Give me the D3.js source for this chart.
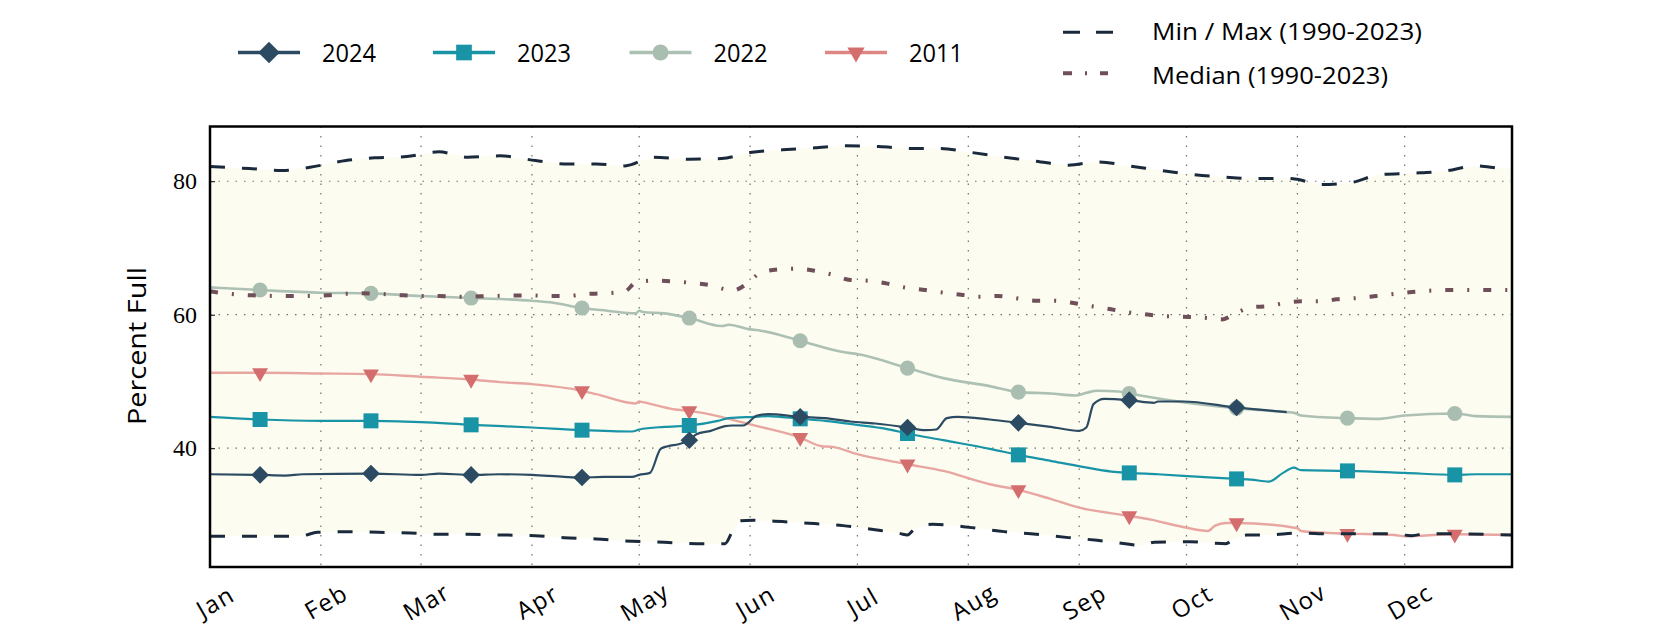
<!DOCTYPE html>
<html>
<head>
<meta charset="utf-8">
<script src="https://cdn.jsdelivr.net/npm/d3@7"></script>
<style>
  body { margin: 0; background: #fff; }
  svg { display: block; }
</style>
</head>
<body>
<div id="chart"></div>
<script>
// day-of-year (0 = Jan 1) and percent full
const maxPts = [[0,82.2],[11,81.9],[20,81.6],[28,82.1],[38,83.1],[46,83.5],[55,83.7],[64,84.4],[72,83.6],[81,83.8],
  [91,83.1],[99,82.6],[108,82.6],[116,82.3],[124,83.6],[134,83.3],[143,83.4],[151,84.3],[160,84.7],[169,85.0],
  [178,85.3],[187,85.2],[196,84.9],[204,84.9],[213,84.3],[222,83.6],[231,83.0],[240,82.4],[248,82.9],[257,82.3],
  [266,81.6],[275,81.0],[284,80.6],[292,80.4],[302,80.4],[304,80.3],[310,79.5],[319,79.8],[327,81.0],[336,81.2],
  [345,81.5],[354,82.3],[362,81.9],[364,82.0]];

const minPts = [[0,26.8],[22,26.8],[26,26.9],[30,27.4],[38,27.5],[47,27.4],[56,27.3],[64,27.1],[72,27.1],[81,27.0],
  [91,26.9],[99,26.6],[108,26.4],[116,26.1],[127,25.9],[136,25.7],[144,25.7],[146,27.5],[148,29.1],[152,29.2],
  [160,29.0],[169,28.7],[177,28.4],[187,27.7],[193,27.2],[195,27.0],[197,27.9],[202,28.6],[213,28.1],[222,27.5],
  [231,27.1],[240,26.6],[248,26.2],[257,25.6],[260,25.4],[264,25.9],[274,26.0],[280,25.8],[284,25.7],[286,26.3],
  [290,27.0],[296,27.0],[304,27.3],[310,27.2],[330,27.2],[336,26.9],[340,27.2],[364,27.0]];

const medPts = [[0,63.5],[6,63.1],[12,62.9],[22,62.8],[27,62.8],[33,62.9],[37,63.1],[42,63.2],[48,63.1],[54,62.9],
  [60,62.8],[64,62.8],[69,62.7],[79,62.8],[89,62.9],[95,62.8],[100,62.8],[105,63.1],[110,63.2],[116,63.5],
  [119,64.8],[124,65.1],[129,65.0],[134,64.8],[140,64.4],[144,63.8],[146,63.6],[150,64.6],[154,66.3],[159,66.8],
  [164,66.9],[169,66.6],[174,66.0],[179,65.2],[184,65.1],[189,64.7],[194,64.1],[200,63.7],[205,63.3],[210,63.0],
  [215,62.7],[220,62.8],[225,62.5],[231,62.1],[236,62.1],[241,61.8],[245,61.4],[251,60.9],[256,60.4],[261,60.1],
  [266,59.8],[272,59.7],[277,59.6],[283,59.3],[287,60.3],[291,61.1],[296,61.3],[301,61.8],[305,62.0],[311,62.0],
  [315,62.3],[321,62.5],[326,62.8],[331,63.1],[336,63.4],[341,63.6],[346,63.7],[364,63.7]];

const s2024 = [[0,36.1],[14,36.0],[21,35.9],[26,36.1],[45,36.2],[59,36.0],[64,36.2],[73,36.0],[81,36.1],[90,36.0],
  [99,35.7],[104,35.6],[110,35.7],[118,35.7],[120,36.0],[123,36.3],[126,39.9],[128,40.3],[131,40.6],[134,41.2],
  [136,42.1],[140,42.6],[144,43.3],[146,43.4],[149,43.4],[153,44.9],[156,45.1],[165,44.7],[172,44.5],[179,44.0],
  [186,43.7],[195,43.1],[200,42.7],[203,42.8],[206,44.5],[209,44.7],[218,44.3],[226,43.8],[235,43.2],[243,42.6],
  [245,43.1],[247,46.6],[250,47.4],[257,47.2],[264,46.8],[265,47.0],[272,47.0],[287,46.1],[295,45.7],[301,45.4]];

const s2023 = [[0,44.7],[14,44.3],[31,44.1],[45,44.1],[59,43.9],[73,43.5],[90,43.1],[104,42.7],[118,42.5],[120,42.8],
  [127,43.2],[134,43.4],[142,44.1],[145,44.5],[152,44.7],[156,44.8],[165,44.4],[172,44.1],[181,43.5],[189,42.9],
  [195,42.2],[205,41.2],[218,39.9],[226,39.0],[235,38.1],[244,37.2],[252,36.5],[257,36.3],[265,36.1],[277,35.7],
  [287,35.4],[291,35.3],[296,35.0],[300,36.3],[303,37.1],[305,36.7],[318,36.6],[334,36.3],[348,36.0],[354,36.1],[364,36.1]];

const s2022 = [[0,64.1],[14,63.7],[31,63.3],[45,63.2],[59,62.8],[73,62.5],[90,62.1],[96,61.8],[104,61.0],[111,60.6],
  [119,60.2],[120,60.6],[121,60.4],[127,60.2],[134,59.5],[143,58.3],[145,58.5],[151,57.8],[154,57.6],[165,56.1],
  [177,54.4],[181,54.1],[195,52.0],[205,50.5],[218,49.3],[226,48.4],[235,48.2],[242,47.9],[245,48.3],[248,48.6],
  [254,48.5],[257,48.2],[272,46.9],[287,46.0],[301,45.4],[303,45.3],[305,44.9],[318,44.5],[327,44.4],[334,44.9],
  [348,45.2],[354,44.8],[364,44.7]];

const s2011 = [[0,51.3],[14,51.3],[31,51.2],[45,51.1],[59,50.7],[73,50.3],[81,49.9],[90,49.6],[104,48.6],[108,48.1],
  [119,46.7],[120,47.0],[121,46.9],[130,45.8],[134,45.6],[142,44.8],[145,44.4],[153,43.3],[165,41.6],[171,40.3],
  [174,40.2],[181,39.1],[195,37.6],[205,36.6],[218,34.6],[226,33.75],[235,32.4],[243,31.1],[257,29.85],[263,29.3],
  [272,28.2],[279,27.6],[281,28.4],[284,28.8],[287,28.8],[304,28.0],[305,27.6],[313,27.3],[318,27.2],[331,27.0],
  [334,26.8],[348,27.1],[364,27.0]];

// markers sit on the 15th of each month
const markerDays = [14, 45, 73, 104, 134, 165, 195, 226, 257, 287, 318, 348];
const yTicks = [40, 60, 80];

const W = 1680, H = 630;
const pLeft = 210, pRight = 1512, pTop = 126.5, pBottom = 567;
const font = "Open Sans";

const toDate = d => new Date(2023, 0, 1 + d);

const x = d3.scaleTime()
  .domain([new Date(2023, 0, 1), new Date(2023, 11, 31)])
  .range([pLeft, pRight]);
const y = d3.scaleLinear()
  .domain([22.2, 88.2])
  .range([pBottom, pTop]);

const svg = d3.select("#chart").append("svg")
  .attr("width", W).attr("height", H);

const line = d3.line()
  .x(d => x(toDate(d[0])))
  .y(d => y(d[1]))
  .curve(d3.curveMonotoneX);

// band between min and max
svg.append("path")
  .attr("d", d3.line().x(d => x(toDate(d[0]))).y(d => y(d[1]))(maxPts.concat(minPts.slice().reverse())) + "Z")
  .attr("fill", "#fcfcf1");

// grid
const months = d3.timeMonth.range(new Date(2023, 0, 1), new Date(2023, 11, 31));
svg.append("g").selectAll("line")
  .data(months.slice(1))
  .join("line")
  .attr("x1", d => x(d)).attr("x2", d => x(d))
  .attr("y1", pTop).attr("y2", pBottom)
  .attr("stroke", "#6f6f6f").attr("stroke-width", 1.2)
  .attr("stroke-dasharray", "1.5,8");
svg.append("g").selectAll("line")
  .data(yTicks)
  .join("line")
  .attr("x1", pLeft).attr("x2", pRight)
  .attr("y1", d => y(d)).attr("y2", d => y(d))
  .attr("stroke", "#6f6f6f").attr("stroke-width", 1.2)
  .attr("stroke-dasharray", "1.5,7");

// yearly series
const series = [
  {name: "2011", pts: s2011, line: "#e8a6a1", mark: "#d46e6e", w: 2.4, sym: d3.symbolTriangle, size: 110, rot: 180},
  {name: "2022", pts: s2022, line: "#adc0b4", mark: "#aabdb1", w: 2.6, sym: d3.symbolCircle, size: 180, rot: 0},
  {name: "2023", pts: s2023, line: "#1894a6", mark: "#1894a6", w: 2.2, sym: d3.symbolSquare, size: 225, rot: 0},
  {name: "2024", pts: s2024, line: "#2c4b62", mark: "#2c4b62", w: 2.2, sym: d3.symbolSquare, size: 155, rot: 45}
];

series.forEach(s => {
  svg.append("path")
    .attr("d", line(s.pts))
    .attr("fill", "none")
    .attr("stroke", s.line)
    .attr("stroke-width", s.w)
    .attr("stroke-linejoin", "round");
  svg.append("g").selectAll("path")
    .data(s.pts.filter(p => markerDays.includes(p[0])))
    .join("path")
    .attr("d", d3.symbol(s.sym, s.size))
    .attr("transform", d => `translate(${x(toDate(d[0]))},${y(d[1])}) rotate(${s.rot})`)
    .attr("fill", s.mark);
});

// min / max and median
[maxPts, minPts].forEach(pts => {
  svg.append("path")
    .attr("d", line(pts))
    .attr("fill", "none")
    .attr("stroke", "#1a2a3c")
    .attr("stroke-width", 3)
    .attr("stroke-dasharray", "15,17");
});
svg.append("path")
  .attr("d", line(medPts))
  .attr("fill", "none")
  .attr("stroke", "#6f4f59")
  .attr("stroke-width", 4)
  .attr("stroke-dasharray", "8,14,2,14");

// frame
svg.append("rect")
  .attr("x", pLeft).attr("y", pTop)
  .attr("width", pRight - pLeft).attr("height", pBottom - pTop)
  .attr("fill", "none").attr("stroke", "#000").attr("stroke-width", 2.5);

// y axis
const yAxis = svg.append("g")
  .attr("transform", `translate(${pLeft},0)`)
  .call(d3.axisLeft(y).tickValues(yTicks).tickSize(-5).tickPadding(13));
yAxis.select(".domain").remove();
yAxis.selectAll("line").attr("stroke", "#000");
yAxis.selectAll("text")
  .attr("font-family", "Liberation Serif")
  .attr("font-size", 24)
  .attr("fill", "#000");

svg.append("text")
  .attr("transform", "translate(137,346) rotate(-90)")
  .attr("text-anchor", "middle")
  .attr("dy", "0.35em")
  .attr("font-family", font)
  .attr("font-size", 25)
  .attr("textLength", 158)
  .attr("lengthAdjust", "spacingAndGlyphs")
  .text("Percent Full");

// x axis
const xAxis = svg.append("g")
  .attr("transform", `translate(0,${pBottom})`)
  .call(d3.axisBottom(x).tickValues(months).tickFormat(d3.timeFormat("%b")).tickSize(0));
xAxis.select(".domain").remove();
xAxis.selectAll("text")
  .attr("y", 0).attr("dy", "0.35em")
  .attr("transform", "translate(5,35) rotate(-30)")
  .attr("text-anchor", "middle")
  .attr("font-family", font)
  .attr("font-size", 24)
  .attr("letter-spacing", 1.5)
  .attr("fill", "#000");

// legend, years
const legendX = [238, 433, 629.5, 825];
const legend = svg.append("g");
series.slice().reverse().forEach((s, i) => {
  const g = legend.append("g").attr("transform", `translate(${legendX[i]},52.5)`);
  g.append("line")
    .attr("x1", 0).attr("x2", 62)
    .attr("stroke", s.name === "2011" ? "#de8683" : s.line)
    .attr("stroke-width", 3.3);
  g.append("path")
    .attr("d", d3.symbol(s.sym, s.name === "2024" ? 230 : s.size + 20))
    .attr("transform", `translate(31,0) rotate(${s.rot})`)
    .attr("fill", s.mark);
  g.append("text")
    .attr("x", 84).attr("y", 9.5)
    .attr("font-family", font)
    .attr("font-size", 26)
    .attr("textLength", 54)
    .attr("lengthAdjust", "spacingAndGlyphs")
    .text(s.name);
});

// legend, min / max and median
legend.append("line")
  .attr("x1", 1063).attr("x2", 1114).attr("y1", 32.3).attr("y2", 32.3)
  .attr("stroke", "#1a2a3c").attr("stroke-width", 3)
  .attr("stroke-dasharray", "17,16");
legend.append("text")
  .attr("x", 1152).attr("y", 40)
  .attr("font-family", font).attr("font-size", 24)
  .attr("textLength", 270)
  .attr("lengthAdjust", "spacingAndGlyphs")
  .text("Min / Max (1990-2023)");
legend.append("line")
  .attr("x1", 1063).attr("x2", 1108).attr("y1", 73.3).attr("y2", 73.3)
  .attr("stroke", "#6f4f59").attr("stroke-width", 4)
  .attr("stroke-dasharray", "9,13,2,13");
legend.append("text")
  .attr("x", 1152).attr("y", 84)
  .attr("font-family", font).attr("font-size", 24)
  .attr("textLength", 236)
  .attr("lengthAdjust", "spacingAndGlyphs")
  .text("Median (1990-2023)");
</script>
</body>
</html>
